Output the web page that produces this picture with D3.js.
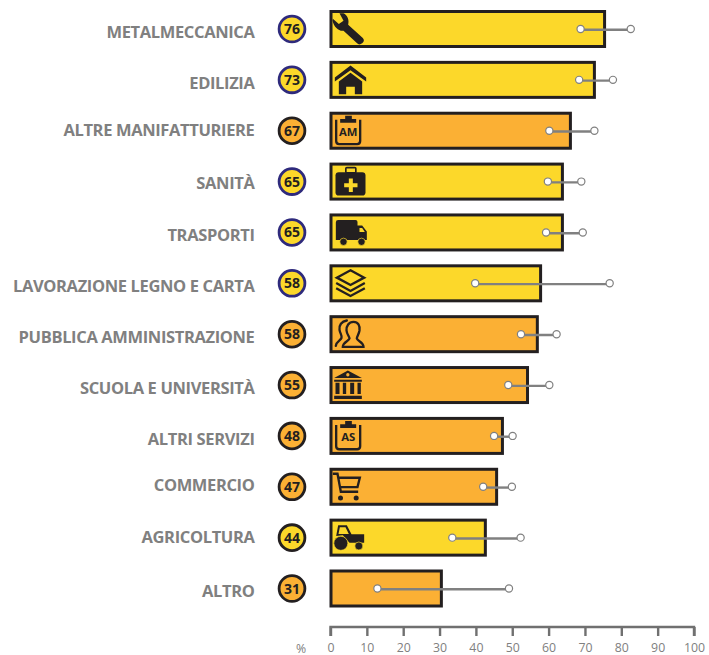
<!DOCTYPE html>
<html><head><meta charset="utf-8">
<script src="https://d3js.org/d3.v7.min.js"></script>
<style>html,body{margin:0;padding:0;background:#fff}svg{display:block}</style>
</head><body><svg id="c" width="709" height="655"></svg>
<script>
const categories = ["METALMECCANICA","EDILIZIA","ALTRE MANIFATTURIERE","SANITÀ","TRASPORTI","LAVORAZIONE LEGNO E CARTA","PUBBLICA AMMINISTRAZIONE","SCUOLA E UNIVERSITÀ","ALTRI SERVIZI","COMMERCIO","AGRICOLTURA","ALTRO"];
const scores = [76,73,67,65,65,58,58,55,48,47,44,31];
const barValues = [75.4,72.6,66,63.8,63.8,57.8,56.9,54.2,47.3,45.7,42.6,30.5];
const lowValues = [68.8,68.4,60.2,59.8,59.3,39.8,52.4,48.9,45,42,33.5,12.9];
const highValues = [82.6,77.7,72.6,69,69.4,76.8,62.2,60.2,50.1,49.9,52.3,49.1];
const groups = ["a","a","b","a","a","a","b","b","b","b","a","b"];
const ringGroups = ["n","n","k","n","n","n","k","k","k","k","k","k"];
const iconNames = ["wrench","house","clipAM","medkit","truck","layers","people","bank","clipAS","cart","tractor",null];
const xTicks = [0,10,20,30,40,50,60,70,80,90,100];

const DARK="#231f20", YEL="#fcd82a", ORG="#fbb034", GREY="#808080", NAVY="#2e2a7c";
const fill=d3.scaleOrdinal(["a","b"],[YEL,ORG]);
const ring=d3.scaleOrdinal(["n","k"],[NAVY,DARK]);
const x=d3.scaleLinear([0,100],[330.5,694]);
const y=d3.scalePoint(categories,[29,588.5]);
const labelShift=[3,3,-1,2,3,3,3,3,3,-2,0,3];
const svg=d3.select("#c");
const rows=categories.map((c,i)=>({c,i,score:scores[i],v:barValues[i],lo:lowValues[i],hi:highValues[i],g:groups[i],r:ringGroups[i],icon:iconNames[i]}));

svg.selectAll("text.lab").data(rows).join("text").attr("class","lab")
 .attr("x",254.5).attr("y",d=>y(d.c)+labelShift[d.i]).attr("dy","0.35em").attr("text-anchor","end")
 .attr("font-family","Open Sans").attr("font-weight",700).attr("font-size",16.5).attr("letter-spacing",-0.36).attr("fill",GREY)
 .text(d=>d.c);

svg.selectAll("circle.score").data(rows).join("circle").attr("class","score")
 .attr("cx",292).attr("cy",d=>y(d.c)).attr("r",12.9)
 .attr("fill",d=>fill(d.g)).attr("stroke",d=>ring(d.r)).attr("stroke-width",2.8);
svg.selectAll("text.score").data(rows).join("text").attr("class","score")
 .attr("x",292).attr("y",d=>y(d.c)).attr("dy","0.36em").attr("text-anchor","middle")
 .attr("font-family","Open Sans").attr("font-weight",700).attr("font-size",14).attr("fill",DARK).text(d=>d.score);

svg.selectAll("rect.bar").data(rows).join("rect").attr("class","bar")
 .attr("x",x(0)+0.5).attr("y",d=>y(d.c)-17.5).attr("height",35)
 .attr("width",d=>x(d.v)-x(0)-0.5)
 .attr("fill",d=>fill(d.g)).attr("stroke",DARK).attr("stroke-width",3);

/* icons in local units: 3 units = 1 px, origin at the bar's outer top-left */
const iconDraw={
 wrench(g){g.append("path").attr("fill",DARK).attr("d","M30 10 L42 10 C54 16 60 30 56 44 L100 84 C105 90 104 95 98 100 L92 103 C88 104 85 102 82 99 L42 62 C28 64 14 52 9 32 L10 26 L28 42 L42 32 Z");},
 house(g){g.append("path").attr("fill",DARK).attr("d","M63 14 L110 50 L110 62 L63 28 L16 62 L16 50 Z M63 36 L98 62 L98 100 L76 100 L76 78 L50 78 L50 100 L28 100 L28 62 Z");},
 clipAM(g){clip(g,"AM");},
 clipAS(g){clip(g,"AS");},
 medkit(g,c){
  g.append("rect").attr("x",18).attr("y",29).attr("width",90).attr("height",70).attr("rx",10).attr("fill",DARK);
  g.append("rect").attr("x",49).attr("y",15).attr("width",30).attr("height",16).attr("rx",3).attr("fill","none").attr("stroke",DARK).attr("stroke-width",5);
  g.append("path").attr("fill",c).attr("d","M58 48 H70 V62 H84 V74 H70 V88 H58 V74 H44 V62 H58 Z");},
 truck(g,c){
  g.append("path").attr("fill",DARK).attr("d","M26 20 H78 Q84 20 84 26 V36 H98 L112 54 V80 H19 V27 Q19 20 26 20 Z");
  g.append("path").attr("fill",c).attr("d","M90 44 H98 L106 56 H90 Z");
  g.append("g").selectAll("circle").data([42,96]).join("circle").attr("cx",d=>d).attr("cy",85).attr("r",11).attr("fill",DARK).attr("stroke",c).attr("stroke-width",2);},
 layers(g){
  g.append("path").attr("fill","none").attr("stroke",DARK).attr("stroke-width",7).attr("d","M63 18 L104 40 L63 62 L22 40 Z");
  g.append("path").attr("fill","none").attr("stroke",DARK).attr("stroke-width",7).attr("d","M20 56 L63 80 L106 56 M20 72 L63 95 L106 72");},
 people(g){
  g.append("path").attr("fill","none").attr("stroke",DARK).attr("stroke-width",7).attr("stroke-linecap","round")
   .attr("d","M72 20 C86 20 92 32 90 46 C88 58 82 64 82 70 C84 78 102 80 102 95 L40 95 C40 80 58 78 60 70 C60 64 52 58 51 46 C50 32 58 20 72 20 Z");
  g.append("path").attr("fill","none").attr("stroke",DARK).attr("stroke-width",7).attr("stroke-linecap","round")
   .attr("d","M52 16 C36 18 28 30 30 44 C32 56 38 60 36 68 C34 76 20 78 19 92");},
 bank(g){
  g.append("path").attr("fill",DARK).attr("fill-rule","evenodd").attr("d","M55 13 L97 36 H14 Z M55 21 A5 5 0 1 0 55.01 31 A5 5 0 1 0 55 21 Z M14 41 H97 V47 H14 Z M18 50 H30 V84 H18 Z M40 50 H50 V84 H40 Z M62 50 H74 V84 H62 Z M84 50 H94 V84 H84 Z M14 89 H97 V99 H14 Z");},
 cart(g){
  g.append("path").attr("fill","none").attr("stroke",DARK).attr("stroke-width",7).attr("d","M10 18 H24 L34 72 H86 M27 30 H91 L84 58 H32");
  g.append("g").selectAll("circle").data([33,80]).join("circle").attr("cx",d=>d).attr("cy",91).attr("r",7.5).attr("fill",DARK);},
 tractor(g,c){
  g.append("path").attr("fill",DARK).attr("d","M20 52 L26 20 H52 L66 47 H104 V72 H60 L40 50 Z M31 26 L27 46 H58 L48 26 Z");
  g.append("circle").attr("cx",34).attr("cy",74).attr("r",21).attr("fill",DARK).attr("stroke",c).attr("stroke-width",2);
  g.append("circle").attr("cx",88).attr("cy",82).attr("r",12).attr("fill",DARK).attr("stroke",c).attr("stroke-width",2);}
};
function clip(g,t){
 g.append("path").attr("fill","none").attr("stroke",DARK).attr("stroke-width",7).attr("d","M20 24 V88 Q20 97 29 97 H83 Q92 97 92 88 V24");
 g.append("path").attr("fill",DARK).attr("d","M32 22 H47 V12 H67 V22 H80 V33 H32 Z");
 g.append("text").attr("x",56).attr("y",73).attr("text-anchor","middle").attr("font-family","Open Sans").attr("font-weight",700).attr("font-size",34).attr("fill",DARK).text(t);
}
rows.filter(d=>d.icon).forEach(d=>{
 const g=svg.append("g").attr("class","icon").attr("transform",`translate(${x(0)-1},${y(d.c)-19}) scale(${1/3})`);
 iconDraw[d.icon](g,fill(d.g));
});

svg.selectAll("line.range").data(rows).join("line").attr("class","range")
 .attr("x1",d=>x(d.lo)).attr("x2",d=>x(d.hi)).attr("y1",d=>y(d.c)+0.8).attr("y2",d=>y(d.c)+0.8)
 .attr("stroke",GREY).attr("stroke-width",2.4);
const ends=rows.flatMap(d=>[{c:d.c,v:d.lo},{c:d.c,v:d.hi}]);
svg.selectAll("circle.end").data(ends).join("circle").attr("class","end")
 .attr("cx",d=>x(d.v)).attr("cy",d=>y(d.c)).attr("r",3.6)
 .attr("fill","#fff").attr("stroke",GREY).attr("stroke-width",1.2);

const axis=d3.axisBottom(x).tickValues(xTicks).tickSize(9).tickPadding(7).tickFormat(d3.format("d"));
const ax=svg.append("g").attr("transform","translate(0,627)").call(axis);
ax.select(".domain").attr("stroke","#707070").attr("stroke-width",2.4).attr("d",`M${x(0)},9V0H${x(100)}V9`);
ax.selectAll(".tick line").attr("stroke","#707070").attr("stroke-width",2.4);
ax.selectAll(".tick text").attr("font-family","Open Sans").attr("font-size",12.3).attr("fill",GREY);
svg.append("text").attr("x",301).attr("y",652.5).attr("text-anchor","middle").attr("font-family","Open Sans").attr("font-size",12.3).attr("fill",GREY).text("%");
</script></body></html>
